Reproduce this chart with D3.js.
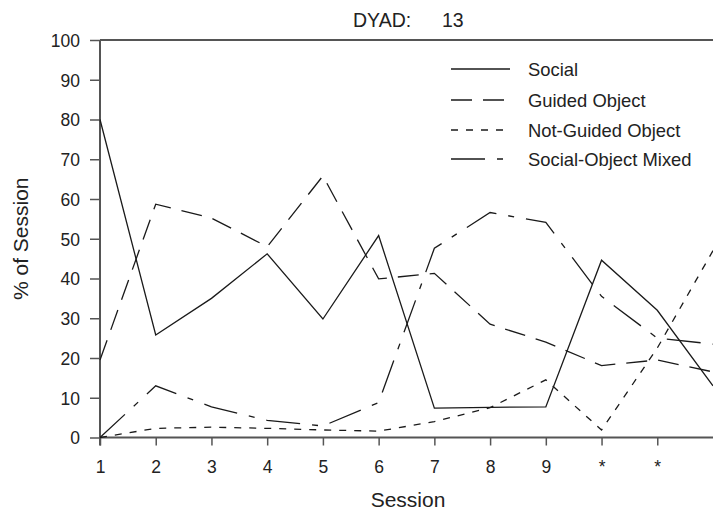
<!DOCTYPE html>
<html>
<head>
<meta charset="utf-8">
<script src="https://cdn.jsdelivr.net/npm/d3@7"></script>
<style>
  body { margin: 0; background: #fff; }
  text { font-family: "Liberation Sans", Arial, sans-serif; fill: #222; }
</style>
</head>
<body>
<div id="chart"></div>
<script>
// sessions 1..12 (10 and 11 are labelled "*", 12 has no label)
var sessions = [1, 2, 3, 4, 5, 6, 7, 8, 9, 10, 11, 12];
var tickLabels = ["1", "2", "3", "4", "5", "6", "7", "8", "9", "*", "*", ""];

var social         = [80, 25.8, 35, 46.2, 29.8, 50.8, 7.4, 7.6, 7.7, 44.6, 32, 13];
var guidedObject   = [19.5, 58.7, 55.2, 48, 65.8, 39.9, 41.3, 28.5, 24, 18.1, 19.5, 16.5];
var notGuided      = [0, 2.3, 2.6, 2.3, 1.9, 1.6, 4, 7.5, 14.5, 1.9, 22.5, 47];
var socialObjMixed = [0, 13, 7.7, 4.3, 2.9, 8.8, 47.6, 56.6, 54.1, 35.5, 25, 23.5];

var series = [
  { name: "Social", values: social, dash: null },
  { name: "Guided Object", values: guidedObject, dash: "21,11" },
  { name: "Not-Guided Object", values: notGuided, dash: "7,8" },
  { name: "Social-Object Mixed", values: socialObjMixed, dash: "34,12,6,12" }
];

var width = 713, height = 510;
var margin = { top: 40, right: 0, bottom: 72.5, left: 100 };

var svg = d3.select('#chart')
  .append('svg')
  .attr('width', width)
  .attr('height', height);

var x = d3.scaleLinear()
  .domain([1, 12])
  .range([margin.left, width - margin.right]);

var y = d3.scaleLinear()
  .domain([0, 100])
  .range([height - margin.bottom, margin.top]);

var axisColor = "#555";

// y axis
var yAxis = svg.append('g')
  .attr('transform', 'translate(' + margin.left + ',0)')
  .call(d3.axisLeft(y).tickValues(d3.range(0, 101, 10)).tickSize(10).tickPadding(10));
yAxis.selectAll('text').style('font-size', '17.5px').style('fill', '#222')
  .attr('dy', '0.36em');

// x axis
var xAxis = svg.append('g')
  .attr('transform', 'translate(0,' + y(0) + ')')
  .call(d3.axisBottom(x).tickValues(sessions.slice(0, 11)).tickSize(8).tickPadding(15)
    .tickFormat((d, i) => tickLabels[i]));
xAxis.selectAll('text').style('font-size', '17.5px').style('fill', '#222');

svg.selectAll('.domain').remove();
svg.selectAll('.tick line').attr('stroke', axisColor).attr('stroke-width', 1.5);

// axis lines and top frame line
svg.append('line')
  .attr('x1', x(1)).attr('x2', x(1))
  .attr('y1', y(0) + 8).attr('y2', y(100))
  .attr('stroke', axisColor).attr('stroke-width', 2);
svg.append('line')
  .attr('x1', x(1)).attr('x2', x(12))
  .attr('y1', y(0)).attr('y2', y(0))
  .attr('stroke', axisColor).attr('stroke-width', 2);
svg.append('line')
  .attr('x1', x(1)).attr('x2', x(12))
  .attr('y1', y(100)).attr('y2', y(100))
  .attr('stroke', axisColor).attr('stroke-width', 2);

// lines
var line = d3.line()
  .x((d, i) => x(sessions[i]))
  .y(d => y(d));

svg.selectAll('path.series')
  .data(series)
  .enter()
  .append('path')
  .attr('class', 'series')
  .attr('d', d => line(d.values))
  .attr('fill', 'none')
  .attr('stroke', '#1a1a1a')
  .attr('stroke-width', 1.3)
  .attr('stroke-dasharray', d => d.dash);

// legend
var legend = svg.append('g');
var legendY = [69, 100, 130, 159];
series.forEach(function(s, i) {
  legend.append('line')
    .attr('x1', 451).attr('x2', 510)
    .attr('y1', legendY[i]).attr('y2', legendY[i])
    .attr('stroke', '#1a1a1a')
    .attr('stroke-width', 1.3)
    .attr('stroke-dasharray', s.dash);
  legend.append('text')
    .attr('x', 528)
    .attr('y', legendY[i] + 6.5)
    .style('font-size', '18.4px')
    .text(s.name);
});

// title
svg.append('text')
  .attr('x', 353)
  .attr('y', 27)
  .style('font-size', '19.5px')
  .text('DYAD:');
svg.append('text')
  .attr('x', 442)
  .attr('y', 27)
  .style('font-size', '19.5px')
  .text('13');

// axis titles
svg.append('text')
  .attr('x', 408)
  .attr('y', 507)
  .attr('text-anchor', 'middle')
  .style('font-size', '21px')
  .text('Session');

svg.append('text')
  .attr('transform', 'translate(28,' + y(50) + ') rotate(-90)')
  .attr('text-anchor', 'middle')
  .style('font-size', '21px')
  .text('% of Session');
</script>
</body>
</html>
